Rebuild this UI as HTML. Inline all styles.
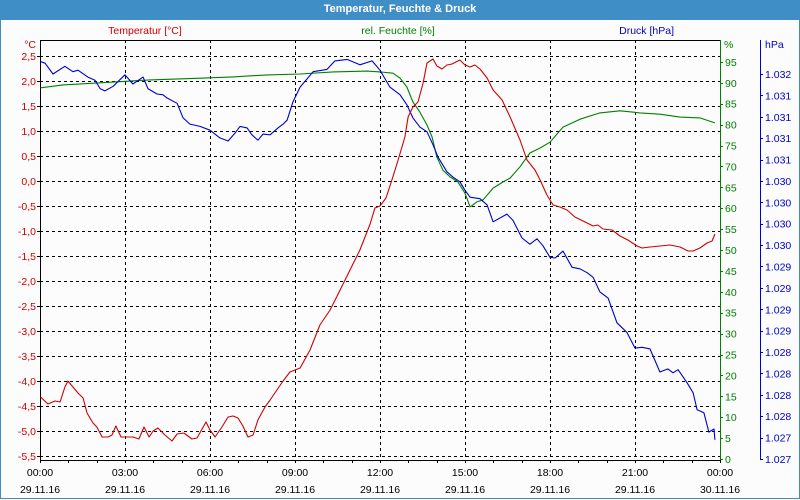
<!DOCTYPE html>
<html><head><meta charset="utf-8">
<style>
html,body{margin:0;padding:0;background:#fff;}
body{width:800px;height:500px;overflow:hidden;font-family:"Liberation Sans",Tahoma,sans-serif;}
#titlebar{position:absolute;left:0;top:0;width:800px;height:20px;background:#3f8fc6;color:#fff;font-weight:bold;font-size:11px;text-align:center;line-height:18px;}
#frame{position:absolute;left:0;top:20px;width:798px;height:478px;border:1px solid #3f8fc6;border-top:none;background:#fcfcfc;}
svg{position:absolute;left:0;top:0;}
text{font-family:"Liberation Sans",Tahoma,sans-serif;font-size:10.5px;}
.crisp{shape-rendering:crispEdges;}
</style></head>
<body>
<div id="titlebar">Temperatur, Feuchte &amp; Druck</div>
<div id="frame"></div>
<svg id="chart" width="800" height="500"></svg>
<script>
const tempHours=[0.02,0.28,0.53,0.71,0.88,0.99,1.16,1.34,1.52,1.66,1.87,2.01,2.19,2.40,2.54,2.68,2.86,3.11,3.28,3.49,3.67,3.85,3.99,4.16,4.41,4.66,4.84,5.08,5.36,5.54,5.86,6.00,6.18,6.42,6.64,6.81,6.99,7.16,7.34,7.52,7.69,7.94,8.12,8.36,8.58,8.82,9.00,9.18,9.53,9.88,10.24,10.59,10.94,11.29,11.65,11.82,12.00,12.21,12.42,12.64,12.88,12.99,13.16,13.34,13.52,13.66,13.87,14.01,14.19,14.36,14.54,14.82,15.00,15.18,15.35,15.53,15.78,15.99,16.31,16.59,16.94,17.19,17.47,17.65,17.89,18.11,18.35,18.60,18.88,19.24,19.52,19.69,19.87,20.19,20.47,20.75,21.07,21.25,21.53,21.88,22.24,22.59,22.87,23.05,23.29,23.54,23.72,23.82];
const tempValues=[-4.32,-4.46,-4.40,-4.42,-4.12,-4.00,-4.12,-4.24,-4.34,-4.64,-4.84,-4.92,-5.12,-5.12,-5.08,-4.90,-5.12,-5.12,-5.12,-5.16,-4.92,-5.12,-5.00,-4.94,-5.08,-5.20,-5.06,-5.04,-5.16,-5.14,-4.82,-4.98,-5.12,-4.92,-4.72,-4.70,-4.74,-4.90,-5.12,-5.08,-4.78,-4.52,-4.38,-4.18,-4.00,-3.82,-3.78,-3.74,-3.38,-2.88,-2.58,-2.18,-1.78,-1.38,-0.86,-0.54,-0.50,-0.34,0.02,0.42,0.88,1.28,1.48,1.58,1.96,2.36,2.44,2.30,2.24,2.32,2.34,2.42,2.32,2.28,2.32,2.24,2.06,1.82,1.62,1.28,0.82,0.42,0.22,0.02,-0.28,-0.48,-0.52,-0.58,-0.72,-0.82,-0.90,-0.88,-0.96,-0.98,-1.10,-1.18,-1.30,-1.34,-1.32,-1.30,-1.28,-1.32,-1.40,-1.40,-1.34,-1.24,-1.20,-1.06];
const humHours=[0.02,0.81,2.12,3.88,5.65,6.81,8.01,9.18,10.34,11.54,12.00,12.46,12.71,12.95,13.16,13.41,13.66,13.84,14.01,14.22,14.47,14.75,15.00,15.18,15.42,15.64,15.99,16.34,16.59,16.94,17.29,17.65,18.00,18.46,19.06,19.76,20.47,21.18,21.88,22.59,23.29,23.82];
const humValues=[88.8,89.5,90.0,90.7,91.1,91.4,91.9,92.1,92.6,92.8,92.6,92.3,91.1,89.0,85.4,83.0,79.9,77.0,72.2,69.1,67.5,66.3,63.6,60.3,61.5,62.0,64.8,66.3,67.2,69.9,73.2,74.4,75.8,79.4,81.3,82.8,83.3,82.8,82.5,81.8,81.6,80.4];
const presHours=[0.02,0.18,0.46,0.88,1.16,1.34,1.69,1.94,2.12,2.29,2.58,3.00,3.28,3.64,3.81,4.13,4.34,4.48,4.84,5.05,5.29,5.65,6.00,6.35,6.64,6.88,7.06,7.31,7.48,7.69,7.87,8.12,8.40,8.58,8.72,8.93,9.18,9.64,10.13,10.41,10.84,11.29,11.72,12.00,12.35,12.71,12.95,13.16,13.41,13.66,13.87,14.05,14.36,14.58,14.82,15.00,15.18,15.53,15.78,15.99,16.48,16.69,17.01,17.29,17.54,17.75,18.00,18.18,18.46,18.78,19.06,19.31,19.52,19.76,20.05,20.36,20.72,21.00,21.25,21.53,21.88,22.16,22.34,22.52,22.84,23.05,23.19,23.43,23.61,23.79,23.82];
const presValues=[1.03216,1.03214,1.03200,1.03210,1.03203,1.03205,1.03196,1.03192,1.03181,1.03178,1.03184,1.03199,1.03187,1.03196,1.03181,1.03174,1.03173,1.03169,1.03162,1.03143,1.03135,1.03132,1.03127,1.03117,1.03113,1.03123,1.03132,1.03130,1.03121,1.03114,1.03122,1.03121,1.03130,1.03135,1.03140,1.03164,1.03183,1.03203,1.03206,1.03217,1.03219,1.03212,1.03217,1.03205,1.03183,1.03173,1.03160,1.03143,1.03131,1.03125,1.03108,1.03092,1.03073,1.03066,1.03060,1.03049,1.03040,1.03038,1.03030,1.03008,1.03018,1.03010,1.02987,1.02979,1.02986,1.02977,1.02962,1.02961,1.02970,1.02949,1.02947,1.02942,1.02936,1.02917,1.02909,1.02877,1.02864,1.02844,1.02845,1.02843,1.02813,1.02817,1.02812,1.02816,1.02799,1.02786,1.02764,1.02760,1.02735,1.02739,1.02725];
const tempTicks=[2.5,2.0,1.5,1.0,0.5,0.0,-0.5,-1.0,-1.5,-2.0,-2.5,-3.0,-3.5,-4.0,-4.5,-5.0,-5.5];
const humTicks=[95,90,85,80,75,70,65,60,55,50,45,40,35,30,25,20,15,10,5,0];
const presTickLabels=["1.032","1.031","1.031","1.031","1.031","1.030","1.030","1.030","1.030","1.029","1.029","1.029","1.029","1.028","1.028","1.028","1.028","1.027","1.027"];
const timeLabels=["00:00","03:00","06:00","09:00","12:00","15:00","18:00","21:00","00:00"];
const dateLabels=["29.11.16","29.11.16","29.11.16","29.11.16","29.11.16","29.11.16","29.11.16","29.11.16","30.11.16"];

const L=40,R=720,T=40,B=460;
const xS=h=>L+(R-L)*h/24;
const yT=t=>56+(2.5-t)*50;
const yH=h=>459-h*4.18;
const yP=p=>74+(1.0320-p)/0.005*385;
const px=v=>Math.round(v)+0.5;
const svg=document.getElementById('chart');
const NS='http://www.w3.org/2000/svg';
function mk(tag,attrs,parent){const e=document.createElementNS(NS,tag);for(const k in attrs)e.setAttribute(k,attrs[k]);(parent||svg).appendChild(e);return e;}
function txt(x,y,s,fill,anchor){const e=mk('text',{x:x,y:y,fill:fill,'text-anchor':anchor||'start'});e.textContent=s;return e;}

tempTicks.forEach((t,i)=>{
  const y=px(yT(t));
  const g=mk('line',{x1:L,x2:R,y1:y,y2:y,stroke:'#000','stroke-dasharray':'3,3','stroke-width':1,class:'crisp'});
  
  
  const tk=mk('line',{x1:L-3,x2:L,y1:y,y2:y,stroke:'#000',class:'crisp'});
  
  
  const lb=txt(L-4,yT(t)+4,t.toFixed(1).replace('.',','),'#d00000','end');
  
  
});
timeLabels.forEach((s,i)=>{
  const x=xS(i*3);
  if(i>0&&i<8){const g=mk('line',{x1:px(x),x2:px(x),y1:T,y2:B,stroke:'#000','stroke-dasharray':'3,3',class:'crisp'});
  
  }
  const a=txt(x,476,s,'#000','middle');
  
  
  const b=txt(x,493,dateLabels[i],'#000','middle');
  
  
});
for(let h=0;h<=24;h++){const tk=mk('line',{x1:px(xS(h)),x2:px(xS(h)),y1:B,y2:B+3,stroke:'#000',class:'crisp'});
  
  }
let ax=mk('line',{x1:L,x2:R,y1:T+0.5,y2:T+0.5,stroke:'#000',class:'crisp'});
ax=mk('line',{x1:L+0.5,x2:L+0.5,y1:T,y2:B,stroke:'#000',class:'crisp'});
ax=mk('line',{x1:L,x2:R,y1:B+0.5,y2:B+0.5,stroke:'#000',class:'crisp'});
ax=mk('line',{x1:R+0.5,x2:R+0.5,y1:T,y2:B,stroke:'#008000',class:'crisp'});
ax=mk('line',{x1:760.5,x2:760.5,y1:T,y2:B,stroke:'#0000c8',class:'crisp'});
humTicks.forEach(h=>{
  const y=px(yH(h));
  const tk=mk('line',{x1:R,x2:R+3,y1:y,y2:y,stroke:'#008000',class:'crisp'});
  
  
  const lb=txt(R+5,yH(h)+4,String(h),'#008000');
  
  
});
presTickLabels.forEach((s,i)=>{
  const p=1.0320-i*0.005/18;
  const y=yP(p);
  const tk=mk('line',{x1:760,x2:763,y1:px(y),y2:px(y),stroke:'#0000c8',class:'crisp'});
  
  
  const lb=txt(765,y+4,s,'#0000c8');
  
  
});
let u=txt(L-4,48,'°C','#d00000','end');
u=txt(724,48,'%','#008000');
u=txt(765,48,'hPa','#0000c8');
u=txt(145,34,'Temperatur [°C]','#d00000','middle');
u=txt(398,34,'rel. Feuchte [%]','#008000','middle');
u=txt(674,34,'Druck [hPa]','#0000c8','end');

function line(hs,vs,yf,col){return mk('polyline',{points:hs.map((h,i)=>xS(h).toFixed(1)+','+yf(vs[i]).toFixed(1)).join(' '),fill:'none',stroke:col,'stroke-width':1.1,'stroke-linejoin':'round'});}
const hl=line(humHours,humValues,yH,'#008000');


const pl=line(presHours,presValues,yP,'#0000d0');


const tl=line(tempHours,tempValues,yT,'#d00000');


</script>
</body></html>
